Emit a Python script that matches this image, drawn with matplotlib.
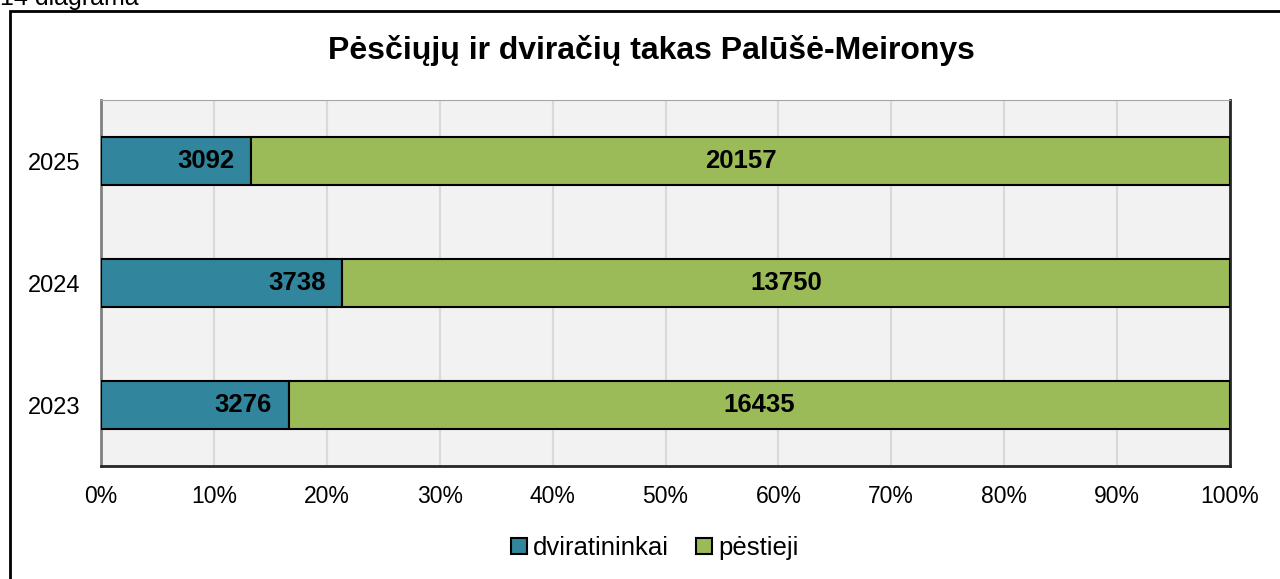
import matplotlib.pyplot as plt
from matplotlib.patches import Rectangle
import numpy as np

plt.rcParams['font.family'] = ['Liberation Sans', 'DejaVu Sans']

years = ['2023', '2024', '2025']
dviratininkai = [3276, 3738, 3092]
pestieji = [16435, 13750, 20157]
ticks = [0, 10, 20, 30, 40, 50, 60, 70, 80, 90, 100]

blue = '#31859c'
green = '#9bbb59'

tot = np.array(dviratininkai) + np.array(pestieji)
p1 = np.array(dviratininkai) / tot * 100
p2 = np.array(pestieji) / tot * 100

fig = plt.figure(figsize=(12.8, 5.79), dpi=100)
ax = fig.add_axes([101 / 1280, 1 - 466 / 579, 1129 / 1280, 366 / 579])

# outer frame and caption (cut at the top, as in the source)
fig.patches.append(Rectangle((10 / 1280, -0.1), 1.2, 1 - 11 / 579 + 0.1,
                             transform=fig.transFigure, fill=False,
                             edgecolor='black', linewidth=2))
fig.text(0, 1 - 5 / 579, '14 diagrama', fontsize=18, va='baseline', ha='left')

ax.set_facecolor('#f2f2f2')
y = np.arange(len(years))
ax.barh(y, p1, height=0.4, color=blue, edgecolor='black', linewidth=1.5, zorder=3)
ax.barh(y, p2, left=p1, height=0.4, color=green, edgecolor='black', linewidth=1.5, zorder=3)

for i in range(len(years)):
    ax.text(p1[i] - 1.5, i, str(dviratininkai[i]), ha='right', va='center',
            fontsize=18.5, fontweight='bold', zorder=4)
    ax.text(p1[i] + p2[i] / 2, i, str(pestieji[i]), ha='center', va='center',
            fontsize=18.5, fontweight='bold', zorder=4)

ax.set_xlim(0, 100)
ax.set_ylim(-0.5, 2.5)
ax.set_xticks(ticks)
ax.set_xticklabels([f'{t}%' for t in ticks], fontsize=16.5)
ax.set_yticks(y)
ax.set_yticklabels(years, fontsize=17)
ax.tick_params(length=0, pad=14)
ax.tick_params(axis='y', pad=15)
ax.xaxis.grid(True, color='#d9d9d9', linewidth=1.5, zorder=0)
ax.set_axisbelow(True)

ax.spines['top'].set_color('#a6a6a6')
ax.spines['left'].set_color('#808080')
ax.spines['left'].set_linewidth(2)
ax.spines['bottom'].set_color('#262626')
ax.spines['bottom'].set_linewidth(2)
ax.spines['right'].set_color('#262626')
ax.spines['right'].set_linewidth(2)

fig.text(651 / 1280, 1 - 50 / 579, 'Pėsčiųjų ir dviračių takas Palūšė-Meironys',
         ha='center', va='center', fontsize=23, fontweight='bold')

ax.legend(['dviratininkai', 'pėstieji'], loc='center', bbox_to_anchor=(655 / 1280, 1 - 548 / 579),
          bbox_transform=fig.transFigure, ncol=2, frameon=False, fontsize=18.5,
          handlelength=0.6, handleheight=0.6, handletextpad=0.25, columnspacing=1.05,
          borderaxespad=0)

fig.savefig('out.png', dpi=100)
